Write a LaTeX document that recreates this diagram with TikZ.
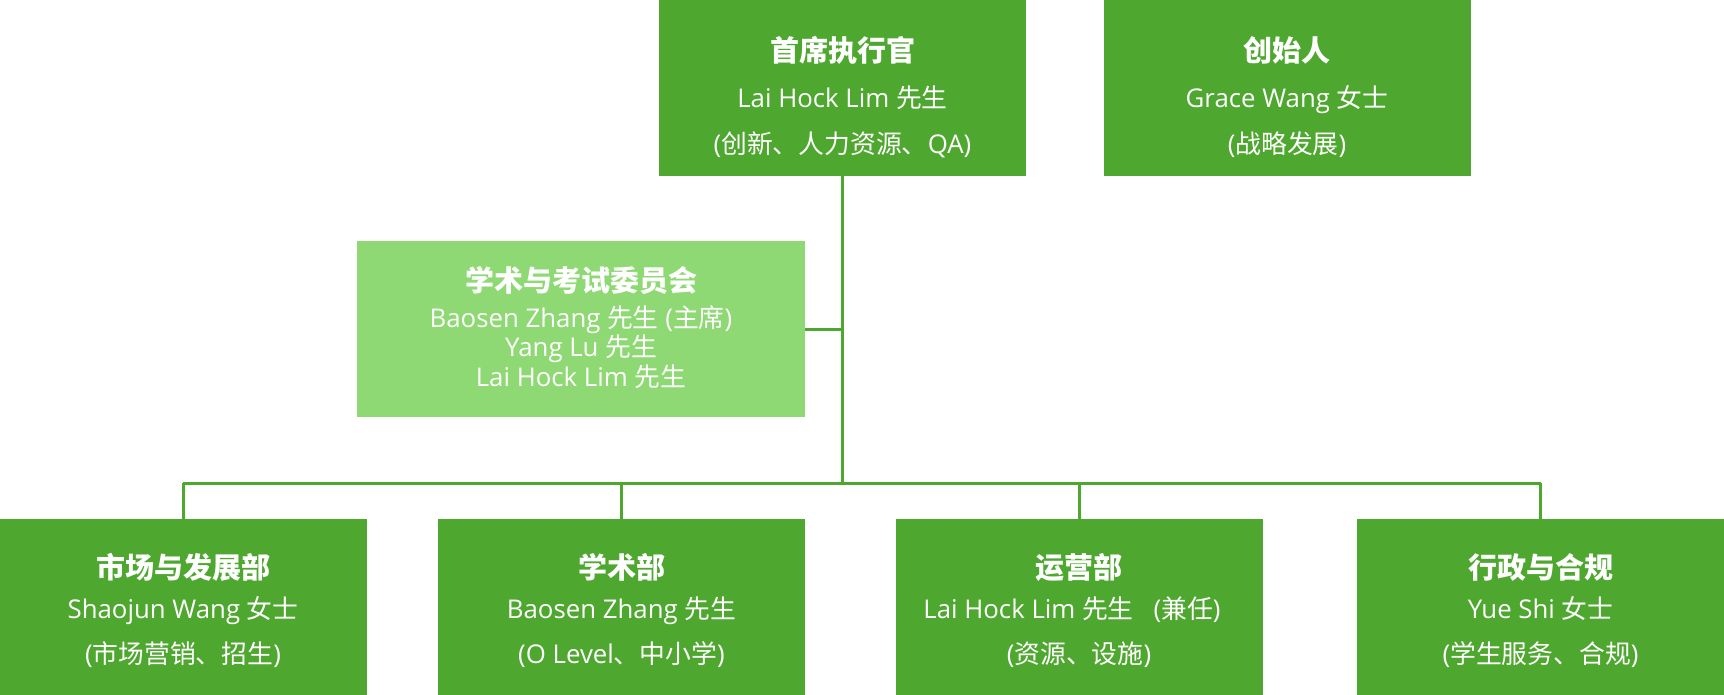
\documentclass[tikz,border=0pt]{standalone}
\usepackage{fontspec}
\setmainfont{Open Sans}
\newfontfamily\cjk{Noto Sans CJK SC}
\newcommand\zh[1]{{\cjk #1}}
\definecolor{dg}{HTML}{4EA72E}
\definecolor{lg}{HTML}{8ED973}
\tikzset{
 box/.style={fill=dg, draw=none, inner sep=0pt, outer sep=0pt, minimum width=367pt, minimum height=176pt},
 lbox/.style={box, fill=lg, minimum width=448pt},
 ttl/.style={text=white, anchor=base, inner sep=0pt, font=\cjk\bfseries\fontsize{29}{34}\selectfont},
 txt/.style={text=white, anchor=base, inner sep=0pt, font=\fontsize{25.8}{30}\selectfont},
 conn/.style={draw=dg, line width=3pt}
}
\begin{document}
\begin{tikzpicture}[x=1pt,y=-1pt]
\useasboundingbox (0,0) rectangle (1724,695);
% boxes
\node[box] (ceo) at (842.5,88) {};
\node[box] (fnd) at (1287,88) {};
\node[lbox] (acad) at (581,329) {};
\node[box] (d1) at (183,607) {};
\node[box] (d2) at (621.5,607) {};
\node[box] (d3) at (1079,607) {};
\node[box] (d4) at (1540.5,607) {};
% texts: CEO
\node[ttl] (ceo-t) at (842.5,61.5) {首席执行官};
\node[txt] (ceo-n) at (842.5,108) {Lai Hock Lim \zh{先生}};
\node[txt] (ceo-r) at (842.5,153.5) {(\zh{创新、人力资源、}QA)};
% founder
\node[ttl] (fnd-t) at (1287,61.5) {创始人};
\node[txt] (fnd-n) at (1287,108) {Grace Wang \zh{女士}};
\node[txt] (fnd-r) at (1287,153.5) {(\zh{战略发展})};
% committee
\node[ttl] (acad-t) at (581,291) {学术与考试委员会};
\node[txt] (acad-a) at (581,327.5) {Baosen Zhang \zh{先生} (\zh{主席})};
\node[txt] (acad-b) at (581,356.5) {Yang Lu \zh{先生}};
\node[txt] (acad-c) at (581,386.5) {Lai Hock Lim \zh{先生}};
% departments
\node[ttl] (d1-t) at (183,578) {市场与发展部};
\node[txt] (d1-n) at (183,618.5) {Shaojun Wang \zh{女士}};
\node[txt] (d1-r) at (183,663) {(\zh{市场营销、招生})};
\node[ttl] (d2-t) at (621.5,578) {学术部};
\node[txt] (d2-n) at (621.5,618.5) {Baosen Zhang \zh{先生}};
\node[txt] (d2-r) at (621.5,663) {(O Level\zh{、中小学})};
\node[ttl] (d3-t) at (1079,578) {运营部};
\node[txt] (d3-n) at (1072,618.5) {Lai Hock Lim \zh{先生}\hspace{20pt}(\zh{兼任})};
\node[txt] (d3-r) at (1079,663) {(\zh{资源、设施})};
\node[ttl] (d4-t) at (1540.5,578) {行政与合规};
\node[txt] (d4-n) at (1540.5,618.5) {Yue Shi \zh{女士}};
\node[txt] (d4-r) at (1540.5,663) {(\zh{学生服务、合规})};
% connectors
\coordinate (bus) at (842.5,483);
\draw[conn] (ceo.south) -- (bus);
\draw[conn] (acad.east) -- (acad.east -| ceo.south);
\draw[conn] (d1.north |- bus) -- (d4.north |- bus);
\draw[conn] (d1.north |- bus) -- (d1.north);
\draw[conn] (d2.north |- bus) -- (d2.north);
\draw[conn] (d3.north |- bus) -- (d3.north);
\draw[conn] (d4.north |- bus) -- (d4.north);
\end{tikzpicture}
\end{document}
